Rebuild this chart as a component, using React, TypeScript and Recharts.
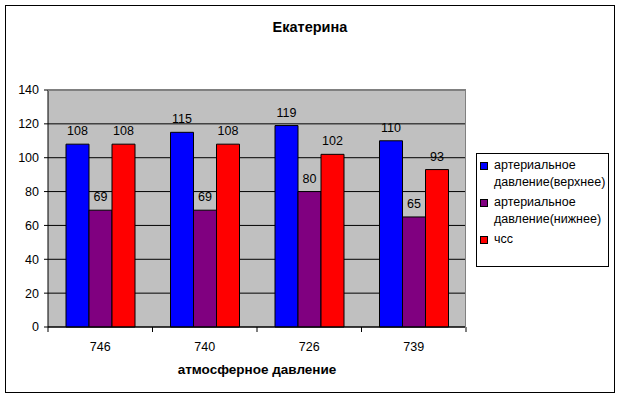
import { BarChart, Bar, XAxis, YAxis, CartesianGrid, LabelList, Label } from "recharts"

const FONT = "'Liberation Sans', Arial, sans-serif"

const pressures = ["746", "740", "726", "739"]
const upper = [108, 115, 119, 110]
const lower = [69, 69, 80, 65]
const pulse = [108, 108, 102, 93]
const yTicks = [0, 20, 40, 60, 80, 100, 120, 140]

const series = [
  { key: "upper", name: "артериальное давление(верхнее)", color: "#0000FF" },
  { key: "lower", name: "артериальное давление(нижнее)", color: "#800080" },
  { key: "pulse", name: "чсс", color: "#FF0000" },
]

const data = pressures.map((p, i) => ({
  pressure: p,
  upper: upper[i],
  lower: lower[i],
  pulse: pulse[i],
}))

const PLOT_LEFT = 48
const PLOT_TOP = 90
const PLOT_W = 418
const PLOT_H = 237
const BAND = PLOT_W / pressures.length
const TXT = 12.5

function XTick(props: any) {
  const { x, y, payload, index } = props
  const half = BAND / 2
  return (
    <g>
      <line x1={x - half} y1={y} x2={x - half} y2={y + 5} stroke="#000" />
      {index === pressures.length - 1 && (
        <line x1={x + half} y1={y} x2={x + half} y2={y + 5} stroke="#000" />
      )}
      <text x={x} y={y + 24} textAnchor="middle" fontSize={TXT} fontFamily={FONT} fill="#000">
        {payload.value}
      </text>
    </g>
  )
}

function Legend() {
  return (
    <div
      style={{
        position: "absolute",
        left: 476,
        top: 153,
        width: 131,
        height: 109,
        border: "1px solid #000",
        background: "#fff",
        fontFamily: FONT,
        fontSize: TXT,
        lineHeight: "17px",
        paddingTop: 3,
        boxSizing: "content-box",
      }}
    >
      {series.map((s) => (
        <div key={s.key} style={{ display: "flex", alignItems: "flex-start", marginBottom: 3 }}>
          <div
            style={{
              width: 6,
              height: 6,
              background: s.color,
              border: "1px solid #000",
              marginLeft: 3,
              marginTop: 5,
              marginRight: 6,
              flexShrink: 0,
            }}
          />
          <div style={{ width: 120 }}>{s.name}</div>
        </div>
      ))}
    </div>
  )
}

export default function App() {
  return (
    <div style={{ position: "absolute", left: 0, top: 0, width: 620, height: 398, background: "#fff" }}>
      <div
        style={{
          position: "absolute",
          left: 5,
          top: 5,
          width: 608,
          height: 386,
          border: "1px solid #000",
        }}
      />
      <div
        style={{
          position: "absolute",
          left: 0,
          top: 19,
          width: 620,
          textAlign: "center",
          fontFamily: FONT,
          fontWeight: "bold",
          fontSize: 14.5,
          lineHeight: "16px",
        }}
      >
        Екатерина
      </div>
      <div style={{ position: "absolute", left: 0, top: 0 }}>
        <BarChart
          width={620}
          height={398}
          data={data}
          margin={{ top: PLOT_TOP, right: 620 - PLOT_LEFT - PLOT_W, left: 0, bottom: 0 }}
          barGap={0}
          barSize={23}
        >
          <CartesianGrid fill="#C0C0C0" stroke="#000" vertical={false} />
          <XAxis
            dataKey="pressure"
            height={398 - PLOT_TOP - PLOT_H}
            axisLine={{ stroke: "#000" }}
            tickLine={false}
            tickSize={0}
            tickMargin={0}
            tick={<XTick />}
            interval={0}
          >
            <Label
              value="атмосферное давление"
              position="insideBottom"
              offset={24}
              style={{ fontFamily: FONT, fontSize: 13.5, fontWeight: "bold", fill: "#000" }}
            />
          </XAxis>
          <YAxis
            width={PLOT_LEFT}
            domain={[0, 140]}
            ticks={yTicks}
            interval={0}
            axisLine={{ stroke: "#000" }}
            tickLine={{ stroke: "#000" }}
            tickSize={4}
            tickMargin={5}
            tick={{ fill: "#000", fontSize: TXT, fontFamily: FONT }}
          />
          {series.map((s) => (
            <Bar key={s.key} dataKey={s.key} name={s.name} fill={s.color} stroke="#000" strokeWidth={1} isAnimationActive={false}>
              <LabelList dataKey={s.key} position="top" offset={9} fill="#000" fontSize={TXT} fontFamily={FONT} />
            </Bar>
          ))}
        </BarChart>
      </div>
      <div
        style={{
          position: "absolute",
          left: PLOT_LEFT,
          top: PLOT_TOP,
          width: PLOT_W - 1,
          height: PLOT_H,
          borderTop: "1px solid #808080",
          borderRight: "1px solid #808080",
          pointerEvents: "none",
        }}
      />
      <Legend />
    </div>
  )
}
